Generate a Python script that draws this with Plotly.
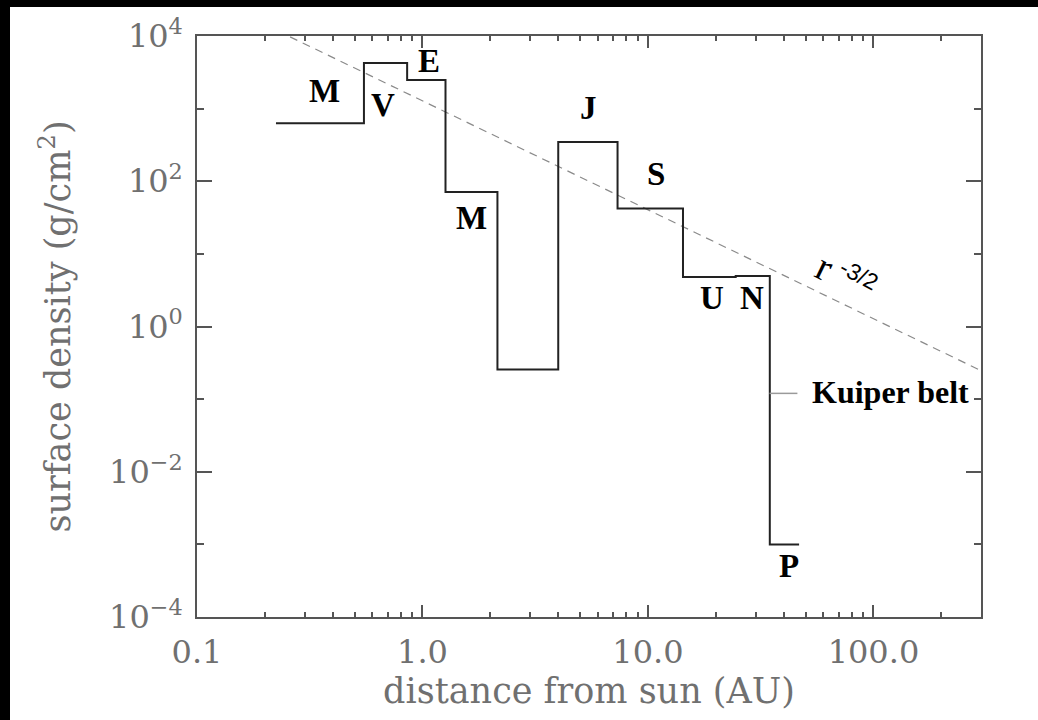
import math
import plotly.graph_objects as go

# Solar-system surface density reconstructed from planet masses (step profile)
zone_edges_au = [0.224, 0.55, 0.855, 1.265, 2.15, 4.0, 7.33, 14.3, 24.5, 34.7, 46.8]
zone_sigma = [630, 4250, 2470, 71, 0.255, 348, 42, 4.8, 4.95, 0.001]

# r^-3/2 reference law
law_coeff = 1280.0
law_exponent = -1.5
law_x_au = [0.2, 300.0]

# Kuiper belt marker
kuiper_x_au = [34.6, 46.0]
kuiper_sigma = [0.12, 0.12]

# Planet labels: text, x (AU), y (g/cm^2)
label_text = ["M", "V", "E", "M", "J", "S", "U", "N", "P"]
label_x = [0.369, 0.667, 1.067, 1.65, 5.46, 10.8, 19.3, 28.8, 42.4]
label_y = [1690, 1080, 4375, 29.9, 984, 121, 2.43, 2.43, 4.9e-4]

x_tickvals = [0.1, 1, 10, 100]
x_ticktext = ["0.1", "1.0", "10.0", "100.0"]
x_minor = [m * d for d in (0.1, 1, 10) for m in range(2, 10)] + [200, 300]

y_tickvals = [1e-4, 1e-2, 1, 1e2, 1e4]
y_ticktext = ["10<sup>" + p + "</sup>" for p in ["\u22124", "\u22122", "0", "2", "4"]]
y_minor = [1e-3, 1e-1, 1e1, 1e3]

lg = math.log10  # annotations on log axes are placed in log10 units

fig = go.Figure()

law_y = [law_coeff * x ** law_exponent for x in law_x_au]
fig.add_trace(go.Scatter(x=law_x_au, y=law_y, mode="lines",
                         line=dict(color="#8a8a8a", width=1.2, dash="8px,6px"),
                         showlegend=False, hoverinfo="skip"))

step_y = zone_sigma + [zone_sigma[-1]]
fig.add_trace(go.Scatter(x=zone_edges_au, y=step_y, mode="lines",
                         line=dict(color="#222222", width=2, shape="hv"),
                         showlegend=False))

fig.add_trace(go.Scatter(x=kuiper_x_au, y=kuiper_sigma, mode="lines",
                         line=dict(color="#9a9a9a", width=1.5),
                         showlegend=False, hoverinfo="skip"))

label_font = dict(family="Liberation Serif", size=33, color="black", weight="bold")
for t, x, y in zip(label_text, label_x, label_y):
    fig.add_annotation(x=lg(x), y=lg(y), xref="x", yref="y", text=t,
                       showarrow=False, font=label_font, yshift=1,
                       xanchor="center", yanchor="middle")

fig.add_annotation(x=lg(119.4), y=lg(0.123), text="Kuiper belt", showarrow=False,
                   font=dict(family="Liberation Serif", size=32, color="black",
                             weight="bold"),
                   yshift=1, xanchor="center", yanchor="middle")

fig.add_annotation(x=lg(60.5), y=lg(6.31), text="r", showarrow=False, textangle=26,
                   font=dict(family="Liberation Serif", size=40, color="black"),
                   yshift=2, xanchor="center", yanchor="middle")
fig.add_annotation(x=lg(86.7), y=lg(5.04), text="-3/2", showarrow=False, textangle=28,
                   font=dict(family="Liberation Sans", size=23, color="black"),
                   xanchor="center", yanchor="middle")

tick_font = dict(family="DejaVu Serif", size=32, color="#707070")
title_font = dict(family="DejaVu Serif", size=35, color="#707070")
axis_common = dict(type="log", showline=True, linecolor="#555555", linewidth=1.5,
                   mirror="ticks", ticks="inside", tickcolor="#555555",
                   tickwidth=1.5, showgrid=False, zeroline=False,
                   tickfont=tick_font, automargin=False)

fig.update_xaxes(range=[-1, 2.477], tickmode="array", tickvals=x_tickvals,
                 ticktext=x_ticktext, ticklen=12, ticklabelstandoff=6,
                 minor=dict(tickmode="array", tickvals=x_minor, ticklen=5,
                            ticks="inside", tickcolor="#555555", tickwidth=1.5,
                            showgrid=False),
                 title=dict(text="distance from sun (AU)", font=title_font,
                            standoff=2),
                 **axis_common)

fig.update_yaxes(range=[-4, 4], tickmode="array", tickvals=y_tickvals,
                 ticktext=y_ticktext, ticklen=15, ticklabelstandoff=6,
                 minor=dict(tickmode="array", tickvals=y_minor, ticklen=7,
                            ticks="inside", tickcolor="#555555", tickwidth=1.5,
                            showgrid=False),
                 title=dict(text="surface density (g/cm<sup>2</sup>)",
                            font=title_font, standoff=28),
                 **axis_common)

# dark frame strips along the left and top edges of the page
fig.add_shape(type="rect", xref="paper", yref="paper",
              x0=-0.26, x1=(10 - 197) / 784, y0=-0.2, y1=1.08,
              fillcolor="black", line_width=0, layer="above")
fig.add_shape(type="rect", xref="paper", yref="paper",
              x0=-0.26, x1=1.1, y0=(617 - 7) / 581, y1=1.08,
              fillcolor="black", line_width=0, layer="above")

fig.update_layout(width=1038, height=720,
                  margin=dict(l=197, r=57, t=36, b=103),
                  paper_bgcolor="white", plot_bgcolor="white",
                  showlegend=False)

fig.write_html("out.html")
